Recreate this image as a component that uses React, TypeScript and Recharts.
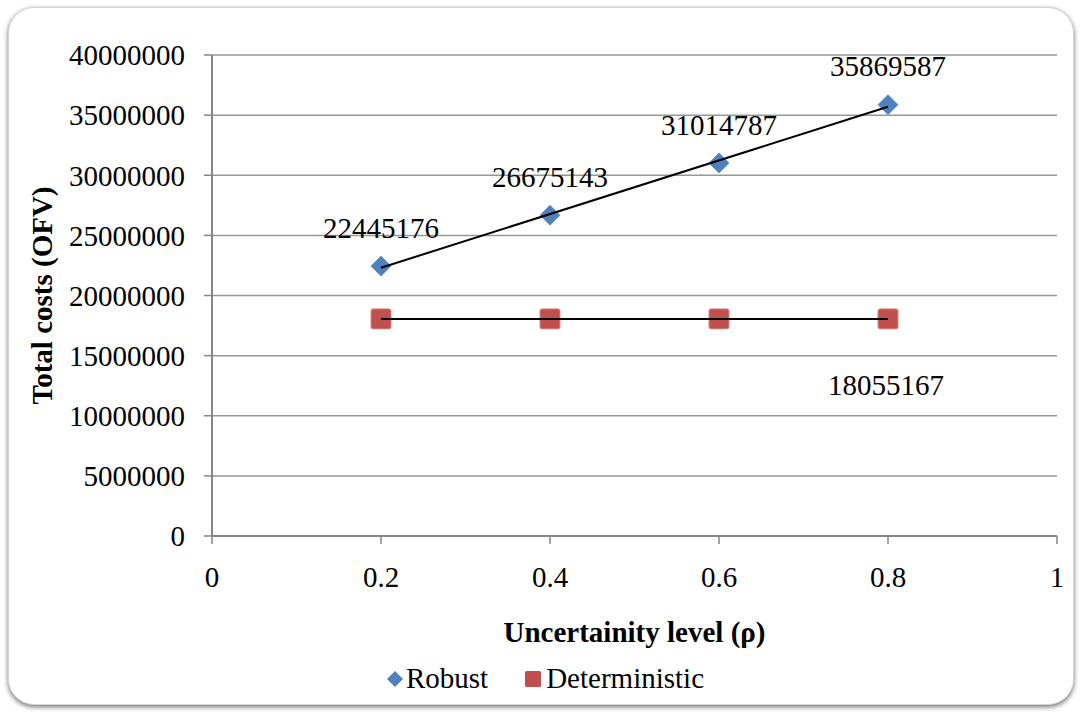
import React from 'react';
import { ScatterChart, Scatter, XAxis, YAxis, CartesianGrid, LabelList, Legend } from 'recharts';

const levels = [0.2, 0.4, 0.6, 0.8];
const robustCosts = [22445176, 26675143, 31014787, 35869587];
const deterministicCosts = [18055167, 18055167, 18055167, 18055167];
const xTicks = [0, 0.2, 0.4, 0.6, 0.8, 1];
const yTicks = [0, 5000000, 10000000, 15000000, 20000000, 25000000, 30000000, 35000000, 40000000];

const robustData = levels.map((x, i) => ({ x, y: robustCosts[i] }));
const deterministicData = levels.map((x, i) => ({ x, y: deterministicCosts[i] }));

const FONT = '"Liberation Serif", "Times New Roman", serif';
const BLUE = '#4F81BD';
const RED = '#C0504D';
const GRID = '#979797';
const AXIS = '#868686';

const DiamondShape = (props: any) => {
  const { cx, cy } = props;
  const r = 10;
  return (
    <path
      d={`M${cx},${cy - r} L${cx + r},${cy} L${cx},${cy + r} L${cx - r},${cy} Z`}
      fill={BLUE}
      stroke="#5a8cc6"
      strokeWidth={0.8}
    />
  );
};

const SquareShape = (props: any) => {
  const { cx, cy } = props;
  const s = 20;
  return (
    <rect x={cx - s / 2} y={cy - s / 2} width={s} height={s} rx={2} fill={RED} stroke="#d98583" strokeWidth={1} />
  );
};

const NoShape = () => <g />;

// only the last deterministic point carries its value, placed below the marker
const DeterministicLabel = (props: any) => {
  const { x, y, width, height, value, index } = props;
  if (index !== deterministicCosts.length - 1) return null;
  const cx = x + width / 2;
  const cy = y + height / 2;
  return (
    <text x={cx - 2} y={cy + 76} textAnchor="middle" fontFamily={FONT} fontSize={29} fill="#000">
      {value}
    </text>
  );
};

const LegendContent = () => (
  <div
    style={{
      display: 'flex',
      justifyContent: 'center',
      alignItems: 'center',
      fontFamily: FONT,
      fontSize: 29,
      color: '#000',
      paddingLeft: 10,
    }}
  >
    <svg width={18} height={18} style={{ marginRight: 2 }}>
      <path d="M9,1 L17,9 L9,17 L1,9 Z" fill={BLUE} />
    </svg>
    <span style={{ marginRight: 36 }}>Robust</span>
    <svg width={18} height={18} style={{ marginRight: 4 }}>
      <rect x={1} y={1} width={16} height={16} rx={1.5} fill={RED} />
    </svg>
    <span>Deterministic</span>
  </div>
);

export default function App() {
  return (
    <div style={{ position: 'absolute', left: 0, top: 0, width: 1080, height: 713, background: '#fff' }}>
      <div
        style={{
          position: 'absolute',
          left: 8,
          top: 7,
          width: 1064,
          height: 696,
          borderRadius: 26,
          border: '1px solid #d4d4d4',
          boxShadow: '0px 2px 5px rgba(0,0,0,0.55)',
          background: '#fff',
        }}
      />
      <div style={{ position: 'absolute', left: 0, top: 0 }}>
        <ScatterChart width={1080} height={713} margin={{ top: 55, right: 23, bottom: 117, left: 0 }}>
          <CartesianGrid vertical={false} stroke={GRID} strokeWidth={1.5} />
          <XAxis
            type="number"
            dataKey="x"
            domain={[0, 1]}
            ticks={xTicks}
            height={60}
            tickSize={8}
            tickMargin={22}
            axisLine={{ stroke: AXIS, strokeWidth: 2 }}
            tickLine={{ stroke: AXIS, strokeWidth: 1.5 }}
            tick={{ fill: '#000', fontSize: 29, fontFamily: FONT }}
            label={{
              content: (p: any) => (
                <text
                  x={p.viewBox.x + p.viewBox.width / 2}
                  y={p.viewBox.y + 106}
                  textAnchor="middle"
                  fontFamily={FONT}
                  fontSize={29}
                  fontWeight="bold"
                  fill="#000"
                >
                  Uncertainity level (ρ)
                </text>
              ),
            }}
          />
          <YAxis
            type="number"
            dataKey="y"
            domain={[0, 40000000]}
            ticks={yTicks}
            width={212}
            tickSize={8}
            tickMargin={19}
            axisLine={{ stroke: AXIS, strokeWidth: 2 }}
            tickLine={{ stroke: AXIS, strokeWidth: 1.5 }}
            tick={{ fill: '#000', fontSize: 29, fontFamily: FONT }}
            label={{
              content: (p: any) => {
                const cy = p.viewBox.y + p.viewBox.height / 2;
                return (
                  <text
                    x={52}
                    y={cy}
                    transform={`rotate(-90, 52, ${cy})`}
                    textAnchor="middle"
                    fontFamily={FONT}
                    fontSize={29}
                    fontWeight="bold"
                    fill="#000"
                  >
                    Total costs (OFV)
                  </text>
                );
              },
            }}
          />
          <Legend
            layout="vertical"
            align="center"
            verticalAlign="middle"
            wrapperStyle={{ top: 662, left: 0, width: 1080 }}
            content={<LegendContent />}
          />
          <Scatter name="Robust" data={robustData} shape={<DiamondShape />} isAnimationActive={false}>
            <LabelList
              dataKey="y"
              position="top"
              offset={24}
              fontFamily={FONT}
              fontSize={29}
              fill="#000"
            />
          </Scatter>
          <Scatter name="Deterministic" data={deterministicData} shape={<SquareShape />} isAnimationActive={false}>
            <LabelList dataKey="y" content={<DeterministicLabel />} />
          </Scatter>
          {/* linear trend lines drawn over the markers */}
          <Scatter
            data={robustData}
            shape={<NoShape />}
            line={{ stroke: '#000', strokeWidth: 2 }}
            lineType="fitting"
            legendType="none"
            isAnimationActive={false}
          />
          <Scatter
            data={deterministicData}
            shape={<NoShape />}
            line={{ stroke: '#000', strokeWidth: 2 }}
            lineType="fitting"
            legendType="none"
            isAnimationActive={false}
          />
        </ScatterChart>
      </div>
    </div>
  );
}
